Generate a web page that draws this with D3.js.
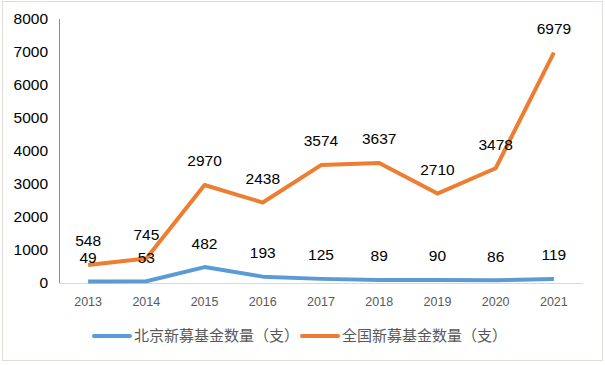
<!DOCTYPE html>
<html><head><meta charset="utf-8">
<script src="https://cdn.jsdelivr.net/npm/d3@7/dist/d3.min.js"></script>
<style>body{margin:0;background:#fff}svg{display:block}</style>
</head><body>
<script>
const years = ["2013","2014","2015","2016","2017","2018","2019","2020","2021"];
const beijing = [49,53,482,193,125,89,90,86,119];
const national = [548,745,2970,2438,3574,3637,2710,3478,6979];
const yTicks = [0,1000,2000,3000,4000,5000,6000,7000,8000];
const seriesNames = ["北京新募基金数量（支）","全国新募基金数量（支）"];
const colors = ["#5B9BD5","#ED7D31"];

const W=605,H=365;
const svg=d3.select("body").append("svg").attr("width",W).attr("height",H);
svg.append("rect").attr("x",2.5).attr("y",1.5).attr("width",600).attr("height",359)
  .attr("fill","#fff").attr("stroke","#e3dcd8").attr("stroke-width",1);

const x=d3.scaleBand().domain(years).range([59,583]);
const y=d3.scaleLinear().domain([0,8000]).range([283,19]);

// y axis
svg.append("line").attr("x1",59.5).attr("x2",59.5).attr("y1",y(8000)).attr("y2",y(0)).attr("stroke","#8c8c8c");
svg.append("line").attr("x1",59).attr("x2",583).attr("y1",y(0)+0.5).attr("y2",y(0)+0.5).attr("stroke","#d9d9d9");
svg.selectAll(".yt").data(yTicks).enter().append("text")
  .attr("x",48).attr("y",d=>y(d)).attr("dy","0.35em").attr("text-anchor","end")
  .attr("font-family","Liberation Sans, Arial, sans-serif").attr("font-size",15.5).attr("fill","#000")
  .text(d=>d);
svg.selectAll(".xt").data(years).enter().append("text")
  .attr("x",d=>x(d)+x.bandwidth()/2).attr("y",302).attr("dy","0.35em").attr("text-anchor","middle")
  .attr("font-family","Liberation Sans, Arial, sans-serif").attr("font-size",12.5).attr("fill","#595959")
  .text(d=>d);

const series=[beijing,national];
const line=d3.line().x((d,i)=>x(years[i])+x.bandwidth()/2).y(d=>y(d));
series.forEach((s,k)=>{
  svg.append("path").datum(s).attr("d",line).attr("fill","none").attr("stroke",colors[k])
    .attr("stroke-width",4).attr("stroke-linejoin","round").attr("stroke-linecap","butt");
});
series.forEach((s,k)=>{
  svg.selectAll(".lbl"+k).data(s).enter().append("text")
    .attr("x",(d,i)=>x(years[i])+x.bandwidth()/2).attr("y",d=>y(d)-24).attr("dy","0.35em")
    .attr("text-anchor","middle").attr("font-family","Liberation Sans, Arial, sans-serif")
    .attr("font-size",15.5).attr("fill","#000").text(d=>d);
});

// legend
const lx=[94,302];
seriesNames.forEach((n,k)=>{
  svg.append("line").attr("x1",lx[k]).attr("x2",lx[k]+36).attr("y1",336).attr("y2",336)
    .attr("stroke",colors[k]).attr("stroke-width",4).attr("stroke-linecap","round");
  svg.append("text").attr("x",lx[k]+40).attr("y",336).attr("dy","0.35em")
    .attr("font-family","Noto Sans CJK SC, sans-serif").attr("font-size",15).attr("fill","#595959").text(n);
});
</script>
</body></html>
